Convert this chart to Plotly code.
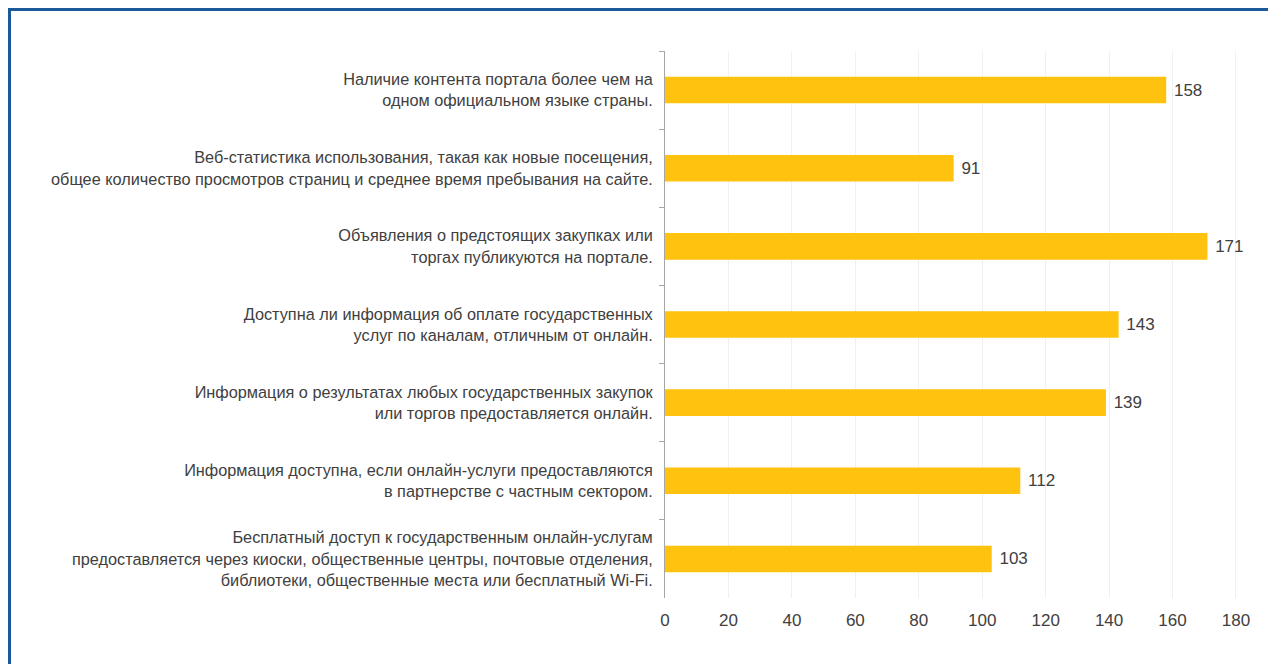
import plotly.graph_objects as go

# Categories top-to-bottom as shown in the reference.
categories = [
    "Наличие контента портала более чем на<br>одном официальном языке страны.",
    "Веб-статистика использования, такая как новые посещения,<br>общее количество просмотров страниц и среднее время пребывания на сайте.",
    "Объявления о предстоящих закупках или<br>торгах публикуются на портале.",
    "Доступна ли информация об оплате государственных<br>услуг по каналам, отличным от онлайн.",
    "Информация о результатах любых государственных закупок<br>или торгов предоставляется онлайн.",
    "Информация доступна, если онлайн-услуги предоставляются<br>в партнерстве с частным сектором.",
    "Бесплатный доступ к государственным онлайн-услугам<br>предоставляется через киоски, общественные центры, почтовые отделения,<br>библиотеки, общественные места или бесплатный Wi-Fi.",
]
values = [158, 91, 171, 143, 139, 112, 103]
x_ticks = [0, 20, 40, 60, 80, 100, 120, 140, 160, 180]

# The page body adds an 8px margin, so the figure is sized to fit inside it.
W, H = 1268, 656
M_L, M_R, M_T, M_B = 657, 14, 43, 66
X_MAX = 188.2

fig = go.Figure(
    go.Bar(
        x=values,
        y=categories,
        orientation="h",
        width=0.34,
        marker={"color": "#FFC20E", "line": {"width": 0}},
        texttemplate="\u00a0%{x}",
        textposition="outside",
        textfont={"size": 17, "color": "#404040"},
        cliponaxis=False,
    )
)

# Frame border, converted from pixels to paper coordinates.
plot_w = W - M_L - M_R
plot_h = H - M_T - M_B


def px_x(px):
    return (px - M_L) / plot_w


def px_y(py):
    return (H - M_B - py) / plot_h


fig.add_shape(
    type="rect",
    xref="paper",
    yref="paper",
    x0=px_x(1.5),
    x1=px_x(1266),
    y0=px_y(680),
    y1=px_y(1.5),
    line={"color": "#1B5A9A", "width": 3},
    fillcolor="rgba(0,0,0,0)",
    layer="above",
)

fig.update_layout(
    width=W,
    height=H,
    margin={"l": M_L, "r": M_R, "t": M_T, "b": M_B, "pad": 0},
    paper_bgcolor="white",
    plot_bgcolor="white",
    showlegend=False,
    font={"family": "Liberation Sans, Arial, sans-serif", "color": "#404040"},
    xaxis={
        "range": [0, X_MAX],
        "tickvals": x_ticks,
        "ticktext": [str(t) for t in x_ticks],
        "tickfont": {"size": 17, "color": "#404040"},
        "showgrid": True,
        "gridcolor": "#F0F0F0",
        "gridwidth": 1,
        "zeroline": False,
        "showline": False,
        "ticks": "",
        "ticklabelstandoff": 10,
    },
    yaxis={
        "autorange": "reversed",
        "tickfont": {"size": 16.3, "color": "#404040"},
        "showline": True,
        "linecolor": "#A6A6A6",
        "linewidth": 1,
        "ticks": "outside",
        "tickson": "boundaries",
        "ticklen": 5,
        "tickcolor": "#A6A6A6",
        "showgrid": False,
        "ticklabelstandoff": 8,
    },
)

fig.write_html("out.html")
